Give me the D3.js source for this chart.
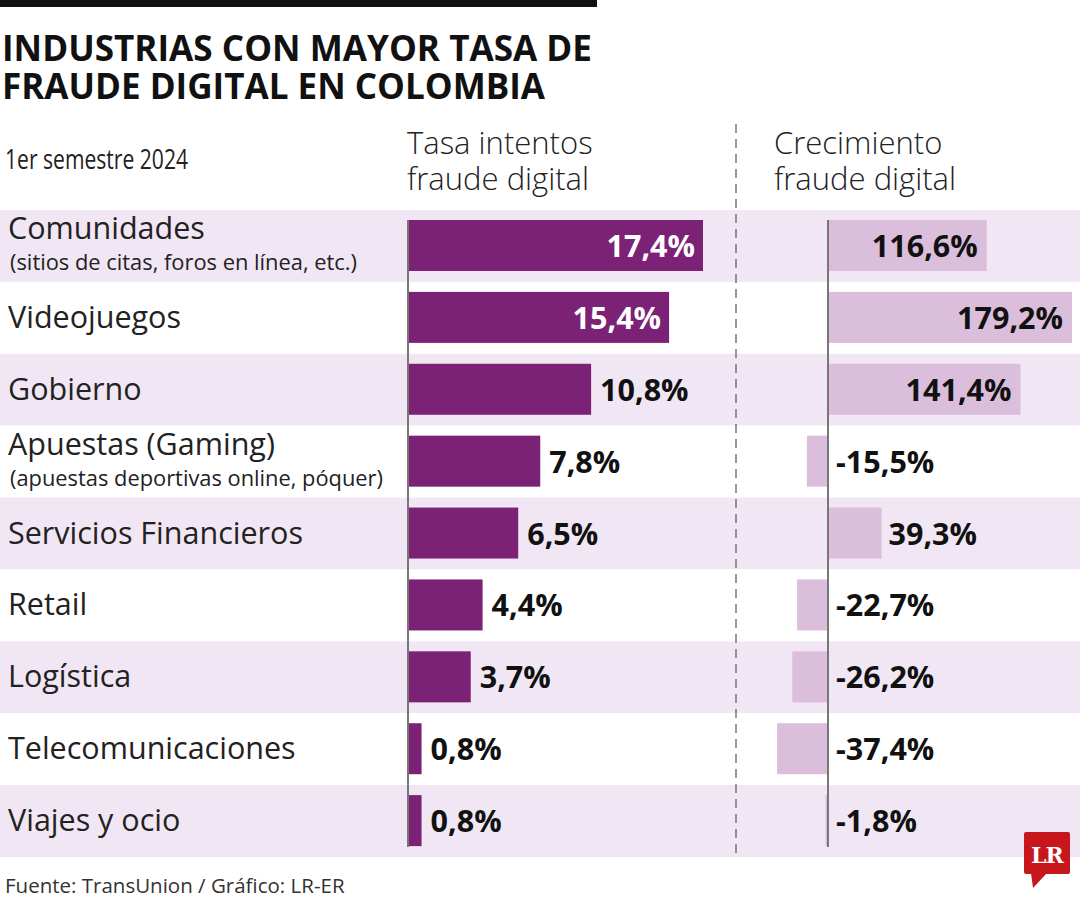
<!DOCTYPE html>
<html><head><meta charset="utf-8">
<script src="https://cdn.jsdelivr.net/npm/d3@7"></script>
<style>body{margin:0;background:#fff}svg{display:block}</style>
</head><body>
<svg id="c" width="1080" height="900"></svg>
<script>
const categories = ["Comunidades","Videojuegos","Gobierno","Apuestas (Gaming)","Servicios Financieros","Retail","Logística","Telecomunicaciones","Viajes y ocio"];
const subLabels = ["(sitios de citas, foros en línea, etc.)","","","(apuestas deportivas online, póquer)","","","","",""];
const tasaIntentos = [17.4,15.4,10.8,7.8,6.5,4.4,3.7,0.8,0.8];
const crecimiento = [116.6,179.2,141.4,-15.5,39.3,-22.7,-26.2,-37.4,-1.8];
const titleLines = ["INDUSTRIAS CON MAYOR TASA DE","FRAUDE DIGITAL EN COLOMBIA"];
const subtitle = "1er semestre 2024";
const header1 = ["Tasa intentos","fraude digital"];
const header2 = ["Crecimiento","fraude digital"];
const source = "Fuente: TransUnion / Gráfico: LR-ER";

const svg = d3.select("#c");
const F = "'Open Sans', 'Noto Sans', sans-serif";
const fmt = v => d3.format(".1f")(v).replace("\u2212","-").replace(".", ",") + "%";

// top rule
svg.append("rect").attr("x",0).attr("y",0).attr("width",597).attr("height",7).attr("fill","#111");

// title
svg.selectAll("text.title").data(titleLines).join("text")
  .attr("x",2).attr("y",(d,i)=>61+i*38)
  .attr("font-family",F).attr("font-weight",700).attr("font-size",36)
  .attr("textLength",(d,i)=>i===0?590:543).attr("lengthAdjust","spacingAndGlyphs")
  .attr("fill","#111").text(d=>d);

svg.append("text").attr("x",5).attr("y",169).attr("font-family",F).attr("font-size",27)
  .attr("textLength",183).attr("lengthAdjust","spacingAndGlyphs").attr("fill","#222").text(subtitle);

const y = d3.scaleBand().domain(categories).range([210,857]).padding(0);

// shaded rows
svg.selectAll("rect.band").data(categories).join("rect")
  .attr("x",0).attr("width",1080).attr("y",d=>y(d)).attr("height",y.bandwidth())
  .attr("fill",(d,i)=>i%2===0?"#f1e6f3":"#ffffff");

// headers
svg.selectAll("text.h1").data(header1).join("text")
  .attr("x",407).attr("y",(d,i)=>154+i*36).attr("font-family",F).attr("font-weight",300)
  .attr("font-size",31).attr("fill","#222").text(d=>d);
svg.selectAll("text.h2").data(header2).join("text")
  .attr("x",774).attr("y",(d,i)=>154+i*36).attr("font-family",F).attr("font-weight",300)
  .attr("font-size",31).attr("fill","#222").text(d=>d);

// dashed divider
svg.append("line").attr("x1",736).attr("x2",736).attr("y1",124).attr("y2",856)
  .attr("stroke","#777").attr("stroke-width",1.5).attr("stroke-dasharray","9,6");

// category labels
categories.forEach((c,i)=>{
  const two = subLabels[i] !== "";
  const yc = y(c) + y.bandwidth()/2;
  svg.append("text").attr("x",8).attr("y", two ? yc-7 : yc+10)
    .attr("font-family",F).attr("font-size",30.5).attr("fill","#222").text(c);
  if (two) {
    svg.append("text").attr("x",10).attr("y",yc+24)
      .attr("font-family",F).attr("font-size",21).attr("fill","#222")
      .attr("textLength", i===0?347:373).attr("lengthAdjust","spacingAndGlyphs").text(subLabels[i]);
  }
});

// left bars
const x1 = d3.scaleLinear().domain([0,17.4]).range([408,703]);
const barH = 51;
svg.selectAll("rect.b1").data(tasaIntentos).join("rect")
  .attr("x",x1(0)).attr("y",(d,i)=>y(categories[i])+10).attr("width",d=>x1(d)-x1(0)).attr("height",barH)
  .attr("fill","#7b2277");
svg.append("line").attr("x1",408).attr("x2",408).attr("y1",y(categories[0])+10).attr("y2",y(categories[8])+y.bandwidth()-10)
  .attr("stroke","#777").attr("stroke-width",2);
svg.selectAll("text.v1").data(tasaIntentos).join("text")
  .attr("x",(d,i)=> i<2 ? x1(d)-8 : x1(d)+9)
  .attr("y",(d,i)=>y(categories[i])+y.bandwidth()/2+11)
  .attr("text-anchor",(d,i)=> i<2 ? "end":"start")
  .attr("font-family",F).attr("font-weight",700).attr("font-size",30.5)
  .attr("fill",(d,i)=> i<2 ? "#fff":"#111").text(d=>fmt(d));

// right bars
const x2 = d3.scaleLinear().domain([0,179.2]).range([828,1072]);
svg.selectAll("rect.b2").data(crecimiento).join("rect")
  .attr("x",d=>x2(Math.min(0,d))).attr("y",(d,i)=>y(categories[i])+10)
  .attr("width",d=>Math.abs(x2(d)-x2(0))).attr("height",barH).attr("fill","#dbbddc");
svg.append("line").attr("x1",828).attr("x2",828).attr("y1",y(categories[0])+10).attr("y2",y(categories[8])+y.bandwidth()-10)
  .attr("stroke","#777").attr("stroke-width",2);
svg.selectAll("text.v2").data(crecimiento).join("text")
  .attr("x",d=> d>100 ? x2(d)-9 : (d>0 ? x2(d)+7 : x2(0)+8))
  .attr("y",(d,i)=>y(categories[i])+y.bandwidth()/2+11)
  .attr("text-anchor",d=> d>100 ? "end":"start")
  .attr("font-family",F).attr("font-weight",700).attr("font-size",30.5)
  .attr("fill","#111").text(d=>fmt(d));

// source
svg.append("text").attr("x",5).attr("y",893).attr("font-family",F).attr("font-size",20.5)
  .attr("fill","#333").text(source);

// logo
const lg = svg.append("g");
lg.append("rect").attr("x",1024).attr("y",832).attr("width",46).attr("height",42).attr("rx",2).attr("fill","#c8161d");
lg.append("path").attr("d","M1031,873 L1047,873 L1033,888 Z").attr("fill","#c8161d");
lg.append("text").attr("x",1047).attr("y",863).attr("text-anchor","middle")
  .attr("font-family","'DejaVu Serif', 'Liberation Serif', serif").attr("font-weight",700)
  .attr("font-size",22).attr("fill","#fff").attr("letter-spacing",-1).text("LR");
</script>
</body></html>
